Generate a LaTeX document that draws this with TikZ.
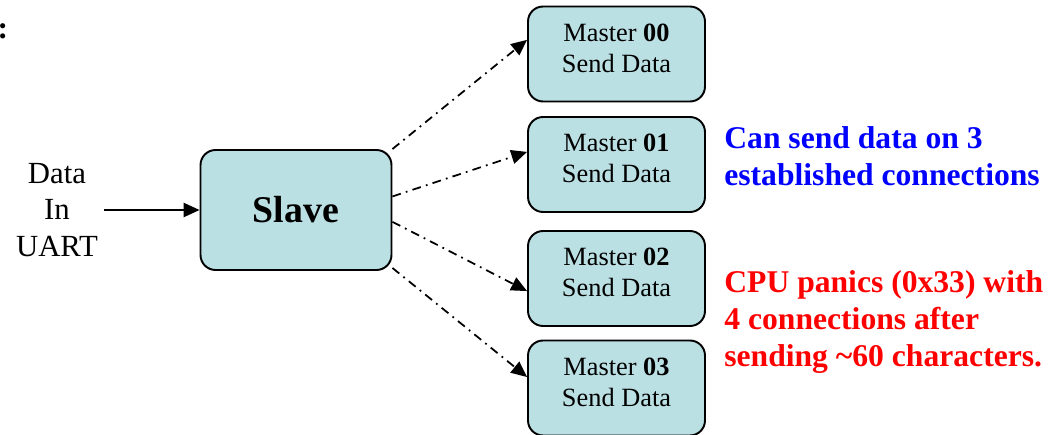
\documentclass[tikz,border=0pt]{standalone}
\usepackage{fontspec}
\setmainfont{Liberation Serif}
\usetikzlibrary{
    arrows.meta,
    positioning
}
\definecolor{boxfill}{RGB}{187,224,227}

\begin{document}
\begin{tikzpicture}[x=0.02cm, y=-0.02cm,
    unit/.style={draw, line width=1.1pt, rounded corners=0.3cm, fill=boxfill, align=center,
        minimum width=3.54cm, minimum height=1.9cm, text depth=7pt, font=\fontsize{15}{17.6}\selectfont},
    link/.style={line width=1pt, dash pattern=on 5pt off 3pt on 1pt off 3pt,
        -{Triangle[length=9pt, width=8pt]}},
    note/.style={anchor=west, align=left, inner sep=0pt, font=\fontsize{18}{21.3}\selectfont\bfseries}]
    \useasboundingbox (0,0) rectangle (1058,435);
    \node[font=\fontsize{18}{21}\selectfont\bfseries, inner sep=0pt] (colon) at (3,31) {:};
    \node[unit, minimum width=3.82cm, minimum height=2.4cm, text depth=, font=\fontsize{21.5}{25}\selectfont\bfseries] (slave) at (296,210) {Slave};
    \node[unit] (m00) at (616.5,54) {Master \textbf{00}\\Send Data};
    \node[unit] (m01) at (616.5,164.5) {Master \textbf{01}\\Send Data};
    \node[unit] (m02) at (616.5,278.5) {Master \textbf{02}\\Send Data};
    \node[unit] (m03) at (616.5,388) {Master \textbf{03}\\Send Data};
    \node[align=center, font=\fontsize{17.5}{21}\selectfont] (uart) at (57,210) {Data\\In\\UART};
    \coordinate (in) at (104,210);
    \node[note, text=blue] (ok) at (724,156) {Can send data on 3\\established connections};
    \node[note, text=red] (panic) at (724,322) {CPU panics (0x33) with\\4 connections after\\sending \textasciitilde60 characters.};
    \draw[line width=1pt, -{Triangle[length=9pt, width=8pt]}] (in) -- (slave.west);
    \draw
    (slave.north east) edge[link] (m00.171)
    (slave.8) edge[link] (m01.172)
    (slave.-7) edge[link] (m02.188)
    (slave.-31) edge[link] (m03.173);
\end{tikzpicture}
\end{document}
